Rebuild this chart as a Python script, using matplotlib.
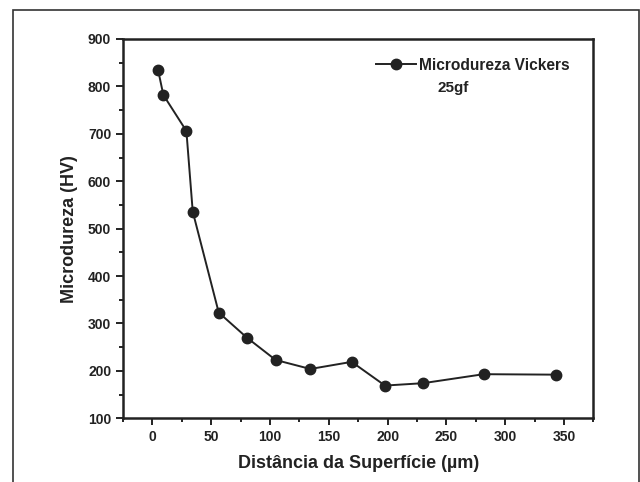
import matplotlib
matplotlib.use('Agg')
import matplotlib.pyplot as plt
from matplotlib.patches import Rectangle
from matplotlib.ticker import MultipleLocator
from matplotlib.lines import Line2D

# distance from surface (um) and Vickers microhardness (HV)
dist = [4.8, 9.3, 28.9, 34.3, 56.4, 80.4, 104.8, 134.3, 169.5, 197.8, 230.1, 281.7, 343.5]
hv = [835, 782, 706, 536, 323, 270, 223, 204, 219, 169, 174, 193, 192]

ink = '#222222'
plt.rcParams['font.family'] = ['Liberation Sans', 'DejaVu Sans']
plt.rcParams['font.weight'] = 'bold'

fig = plt.figure(figsize=(6.4, 4.82), dpi=100)
ax = fig.add_axes([0.1922, 0.1322, 0.7349, 0.7869])

ax.plot(dist, hv, '-o', color=ink, lw=1.4, ms=7.5)

ax.set_xlim(-25, 375)
ax.set_ylim(100, 900)
ax.xaxis.set_major_locator(MultipleLocator(50))
ax.xaxis.set_minor_locator(MultipleLocator(25))
ax.yaxis.set_major_locator(MultipleLocator(100))
ax.yaxis.set_minor_locator(MultipleLocator(50))
ax.tick_params(which='both', direction='out', color=ink, labelcolor=ink, width=1.4)
ax.tick_params(which='major', length=5, labelsize=10)
ax.tick_params(which='minor', length=3)
for lbl in ax.get_xticklabels() + ax.get_yticklabels():
    lbl.set_fontweight('bold')
for s in ax.spines.values():
    s.set_color(ink)
    s.set_linewidth(1.8)

ax.set_xlabel('Distância da Superfície (µm)', fontsize=13, fontweight='bold', color=ink, labelpad=8)
ax.set_ylabel('Microdureza (HV)', fontsize=13, fontweight='bold', color=ink, labelpad=7)

h = Line2D([], [], color=ink, lw=1.4, marker='o', ms=7.5)
leg = ax.legend([h], ['Microdureza Vickers'], loc='upper left', bbox_to_anchor=(0.508, 0.987),
                frameon=False, handlelength=2.6, handletextpad=0.2,
                prop={'size': 11.2, 'weight': 'bold'})
for t in leg.get_texts():
    t.set_color(ink)
ax.text(0.668, 0.86, '25gf', transform=ax.transAxes, fontsize=11, fontweight='bold', color=ink)

# outer frame around the figure
fig.patches.append(Rectangle((13 / 640, -0.1), 626 / 640, 1.1 - 10 / 482, transform=fig.transFigure,
                             fill=False, edgecolor='#333333', lw=1.2, clip_on=False))

plt.savefig('out.png', dpi=100)
